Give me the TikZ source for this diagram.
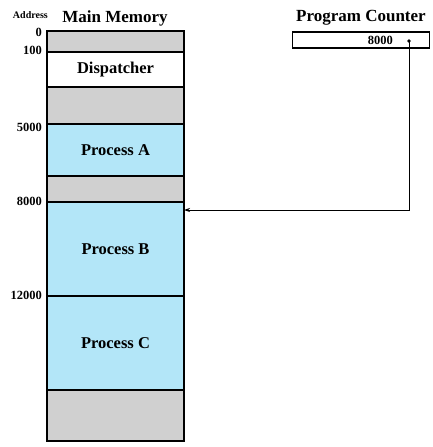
\documentclass[tikz,border=0pt]{standalone}
\usepackage{fontspec}
\setmainfont{Liberation Serif}
\usetikzlibrary{positioning,arrows.meta}
\definecolor{memgray}{HTML}{D0D0D0}
\definecolor{memblue}{HTML}{B3E6F8}
\tikzset{
    seg/.style={draw, line width=1.3pt, minimum width=137pt, inner sep=0pt, outer sep=0pt, font=\bfseries\fontsize{16.5}{18}\selectfont},
    addr/.style={anchor=east, inner sep=0pt, font=\bfseries\fontsize{12.5}{14}\selectfont},
    title/.style={font=\bfseries\fontsize{17}{19}\selectfont, inner sep=0pt}
}
\begin{document}
\begin{tikzpicture}[x=1pt,y=1pt]
    \useasboundingbox (0,0) rectangle (433,-447);
    \node[seg, fill=memgray, minimum height=21pt, anchor=north west] (top) at (47,-31) {};
    \node[seg, fill=white, minimum height=35pt, below=0pt of top] (disp) {Dispatcher};
    \node[seg, fill=memgray, minimum height=37pt, below=0pt of disp] (gapa) {};
    \node[seg, fill=memblue, minimum height=52pt, below=0pt of gapa] (proca) {Process A};
    \node[seg, fill=memgray, minimum height=26pt, below=0pt of proca] (gapb) {};
    \node[seg, fill=memblue, minimum height=94pt, below=0pt of gapb] (procb) {Process B};
    \node[seg, fill=memblue, minimum height=94pt, below=0pt of procb] (procc) {Process C};
    \node[seg, fill=memgray, minimum height=51pt, below=0pt of procc] (bottom) {};

    \node[title] (mm) at (115,-18) {Main Memory};
    \node[addr, font=\bfseries\fontsize{10}{12}\selectfont] (addr) at (48,-15) {Address};
    \node[addr] (a0) at (42,-32) {0};
    \node[addr] (a100) at (42,-50) {100};
    \node[addr] (a5000) at (42,-127) {5000};
    \node[addr] (a8000) at (42,-201) {8000};
    \node[addr] (a12000) at (42,-295) {12000};

    \node[title] (pctitle) at (361,-18) {Program Counter};
    \node[draw, line width=1.3pt, minimum width=137pt, minimum height=16pt, inner sep=0pt, outer sep=0pt] (pc) at (361,-40) {};
    \node[addr] (pcval) at (393,-40) {8000};
    \fill (409,-41) circle (1.8pt) coordinate (pcdot);
    \coordinate (entry) at ([yshift=-8pt]procb.north east);
    \draw[line width=0.8pt, -{Stealth[length=6pt,width=4pt]}] (pcdot) |- (entry);
\end{tikzpicture}
\end{document}
